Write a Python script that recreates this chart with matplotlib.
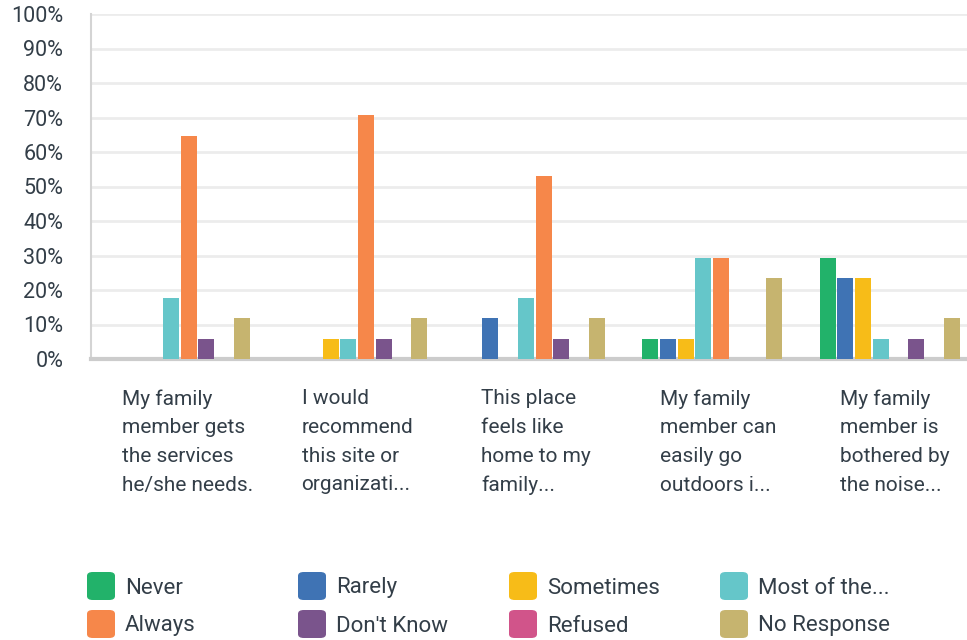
import matplotlib
matplotlib.use("Agg")
import numpy as np
from matplotlib import pyplot as plt
from matplotlib.patches import FancyBboxPatch

plt.rcParams['font.family'] = ['Roboto', 'DejaVu Sans']

categories = [
    "My family\nmember gets\nthe services\nhe/she needs.",
    "I would\nrecommend\nthis site or\norganizati...",
    "This place\nfeels like\nhome to my\nfamily...",
    "My family\nmember can\neasily go\noutdoors i...",
    "My family\nmember is\nbothered by\nthe noise...",
]
series_names = ["Never", "Rarely", "Sometimes", "Most of the...",
                "Always", "Don't Know", "Refused", "No Response"]
colors = ["#22b26a", "#3f73b4", "#f7bc18", "#65c6c9",
          "#f6874a", "#7a548c", "#d1548a", "#c6b46f"]

# percent of respondents, one list per answer
never = [0, 0, 0, 5.88, 29.41]
rarely = [0, 0, 11.76, 5.88, 23.53]
sometimes = [0, 5.88, 0, 5.88, 23.53]
most_of_the = [17.65, 5.88, 17.65, 29.41, 5.88]
always = [64.71, 70.59, 52.94, 29.41, 0]
dont_know = [5.88, 5.88, 5.88, 0, 5.88]
refused = [0, 0, 0, 0, 0]
no_response = [11.76, 11.76, 11.76, 23.53, 11.76]
values = [never, rarely, sometimes, most_of_the, always, dont_know, refused, no_response]

text_col = "#333e48"
W, H = 967, 640
fig = plt.figure(figsize=(W / 100, H / 100), dpi=100)
ax = fig.add_axes([91 / W, 281 / H, (W - 91) / W, 345 / H])

x = np.arange(len(categories))
step = 0.1
for i, (vals, c) in enumerate(zip(values, colors)):
    ax.bar(x + (i - 3.5) * step, vals, width=step * 0.91, color=c, zorder=3)

ax.set_xlim(-0.5, 4.435)
ax.set_ylim(0, 100)
ax.set_yticks(range(0, 101, 10))
ax.set_yticklabels([f"{v}%" for v in range(0, 101, 10)], fontsize=15.5, color=text_col)
ax.yaxis.grid(True, color="#ececec", linewidth=2, zorder=0)
ax.set_xticks([])
ax.tick_params(axis='y', length=0, pad=20)
for s in ["top", "right"]:
    ax.spines[s].set_visible(False)
ax.spines["left"].set_color("#d4d4d4")
ax.spines["left"].set_linewidth(1.5)
ax.spines["bottom"].set_color("#cccccc")
ax.spines["bottom"].set_linewidth(3)

# category labels below the axis, left aligned
trans = ax.get_xaxis_transform()
for i, lab in enumerate(categories):
    ax.text(i * 1.011 - 0.325, -0.087, lab, transform=trans, ha='left', va='top',
            fontsize=15, color=text_col, linespacing=1.65)

# legend, 2 rows x 4 columns
for k, (name, c) in enumerate(zip(series_names, colors)):
    row, col = divmod(k, 4)
    px = 87 + col * 211
    py = 586 + row * 38
    fig.patches.append(FancyBboxPatch(
        (px / W, (H - py - 14) / H), 28 / W, 28 / H,
        boxstyle="round,pad=0,rounding_size=0.006",
        transform=fig.transFigure, facecolor=c, edgecolor='none'))
    fig.text((px + 38) / W, (H - py - 2) / H, name, ha='left', va='center',
             fontsize=16, color=text_col)

fig.savefig("out.png", dpi=100)
